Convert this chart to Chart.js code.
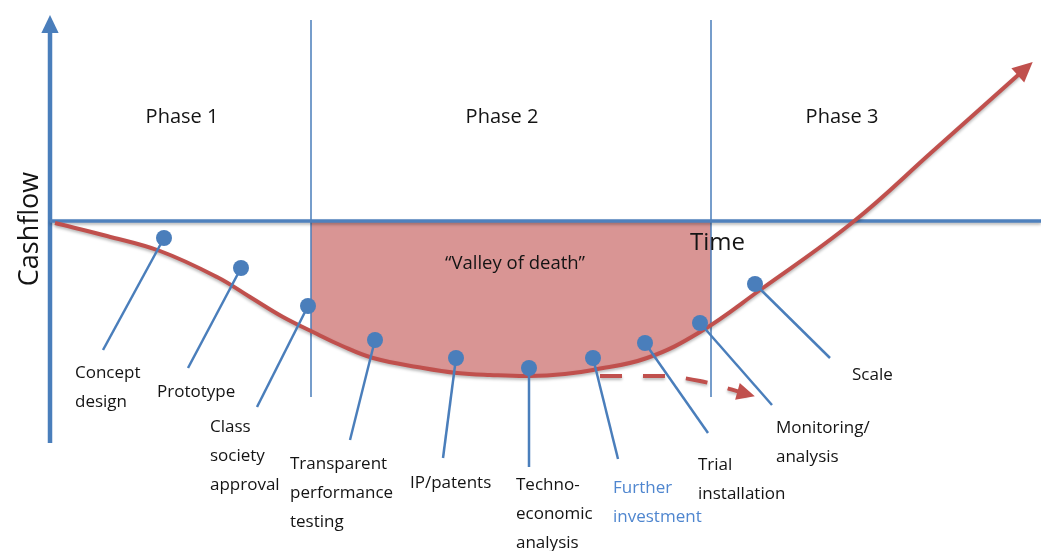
<!DOCTYPE html>
<html>
<head>
<meta charset="utf-8">
<title>Valley of death</title>
<script src="https://cdn.jsdelivr.net/npm/chart.js@4.4.1/dist/chart.umd.min.js"></script>
<style>
  html, body { margin: 0; padding: 0; background: #fff; }
  #wrap { width: 1041px; height: 551px; position: relative; }
</style>
</head>
<body>
<div id="wrap"><canvas id="chart"></canvas></div>
<script>
// Units: time along x, cashflow along y, axes cross at 0/0

// Cashflow curve
const curveTime = [0.5, 5.7, 11, 16.7, 20, 23.3, 26.7, 29, 32.3, 37.3, 40.7, 44, 48, 51.5, 54.3, 59.7, 65, 71, 80.3, 88.3, 97.6];
const curveCash = [-0.2, -1.5, -3.0, -5.6, -7.6, -9.6, -11.3, -12.4, -13.7, -14.7, -15.2, -15.4, -15.5, -15.3, -14.9, -13.7, -11.1, -6.9, -0.1, 7.0, 15.3];

// Phase borders and names
const phaseBorders = [26.1, 66.1];
const phaseNames = ['Phase 1', 'Phase 2', 'Phase 3'];
const phaseLabelTime = [13.2, 45.2, 79.2];

// Valley edge values where it meets the phase borders
const valleyEdgeCash = [-11.0, -10.5];

// Delayed path (dashed arrow)
const delayTime = [55, 61, 65, 69.7];
const delayCash = [-15.5, -15.5, -16, -17.3];

// Steps along the curve
const stepNames = [
  ['Concept', 'design'],
  ['Prototype'],
  ['Class', 'society', 'approval'],
  ['Transparent', 'performance', 'testing'],
  ['IP/patents'],
  ['Techno-', 'economic', 'analysis'],
  ['Further', 'investment'],
  ['Trial', 'installation'],
  ['Monitoring/', 'analysis'],
  ['Scale']
];
const stepDotTime = [11.4, 19.1, 25.8, 32.5, 40.6, 47.9, 54.3, 59.5, 65, 70.5];
const stepDotCash = [-1.7, -4.7, -8.5, -11.9, -13.7, -14.7, -13.7, -12.2, -10.2, -6.3];
const stepTipTime = [5.3, 13.8, 20.7, 30, 39.3, 47.9, 56.8, 65.8, 72.2, 78];
const stepTipCash = [-12.9, -14.7, -18.6, -21.9, -23.7, -24.6, -23.8, -21.2, -18.4, -13.7];
const stepLabelTime = [2.5, 10.7, 16, 24, 36, 46.6, 56.3, 64.8, 72.6, 80.2];
const stepLabelCash = [-15.2, -17.1, -20.6, -24.3, -26.2, -26.4, -26.7, -24.4, -20.7, -15.4];

const BLUE = '#4a7ebb';
const RED = '#c0504d';
const INK = '#141414';
const FONT = '"Open Sans", sans-serif';

const curvePoints = curveTime.map((t, i) => ({ x: t, y: curveCash[i] }));

// valley fill: curve values inside phase 2 plus the two edge values
const valleyPoints = [{ x: phaseBorders[0], y: valleyEdgeCash[0] }]
  .concat(curvePoints.filter(p => p.x > phaseBorders[0] + 0.8 && p.x < phaseBorders[1]))
  .concat([{ x: phaseBorders[1], y: valleyEdgeCash[1] }]);

const datasets = [];

datasets.push({
  data: valleyPoints,
  borderWidth: 0,
  backgroundColor: 'rgb(217,149,148)',
  fill: 'origin',
  pointRadius: 0,
  tension: 0.4,
  order: 10
});

phaseBorders.forEach(t => {
  datasets.push({
    data: [{ x: t, y: 20.1 }, { x: t, y: -17.6 }],
    borderColor: BLUE,
    borderWidth: 1.5,
    pointRadius: 0,
    order: 9
  });
});

// time axis
datasets.push({
  data: [{ x: 0, y: 0 }, { x: 99.1, y: 0 }],
  borderColor: '#4f81bd',
  borderWidth: 3.5,
  pointRadius: 0,
  shadow: true,
  order: 8
});

// cashflow axis
datasets.push({
  data: [{ x: 0, y: -22.2 }, { x: 0, y: 19.8 }],
  borderColor: BLUE,
  borderWidth: 4.5,
  pointRadius: 0,
  arrowSize: 18,
  order: 8
});

datasets.push({
  data: curvePoints,
  borderColor: RED,
  borderWidth: 4,
  pointRadius: 0,
  tension: 0.4,
  arrowSize: 20,
  shadow: true,
  order: 5
});

datasets.push({
  data: delayTime.map((t, i) => ({ x: t, y: delayCash[i] })),
  borderColor: RED,
  borderWidth: 4,
  borderDash: [22, 21],
  pointRadius: 0,
  cubicInterpolationMode: 'monotone',
  arrowSize: 18,
  shadow: true,
  order: 5
});

stepDotTime.forEach((t, i) => {
  datasets.push({
    data: [{ x: t, y: stepDotCash[i] }, { x: stepTipTime[i], y: stepTipCash[i] }],
    borderColor: BLUE,
    borderWidth: 2.5,
    pointRadius: 0,
    order: 2
  });
});

datasets.push({
  data: stepDotTime.map((t, i) => ({ x: t, y: stepDotCash[i] })),
  showLine: false,
  pointRadius: 8,
  pointBackgroundColor: BLUE,
  pointBorderWidth: 0,
  order: 1
});

// soft drop shadow under the curve and time axis
const dropShadow = {
  id: 'dropShadow',
  beforeDatasetDraw(chart, args) {
    if (!chart.data.datasets[args.index].shadow) return;
    const ctx = chart.ctx;
    ctx.save();
    ctx.shadowColor = 'rgba(0,0,0,0.28)';
    ctx.shadowBlur = 3;
    ctx.shadowOffsetY = 2;
  },
  afterDatasetDraw(chart, args) {
    if (!chart.data.datasets[args.index].shadow) return;
    chart.ctx.restore();
  }
};

// Arrowheads at the end of datasets that ask for one
const arrowHeads = {
  id: 'arrowHeads',
  afterDatasetsDraw(chart) {
    const ctx = chart.ctx;
    chart.data.datasets.forEach((ds, i) => {
      if (!ds.arrowSize) return;
      const pts = chart.getDatasetMeta(i).data;
      const a = pts[pts.length - 2], b = pts[pts.length - 1];
      const ang = Math.atan2(b.y - a.y, b.x - a.x);
      const len = ds.arrowSize, half = ds.arrowSize * 0.48;
      ctx.save();
      ctx.translate(b.x, b.y);
      ctx.rotate(ang);
      ctx.beginPath();
      ctx.moveTo(len * 0.45, 0);
      ctx.lineTo(-len * 0.55, -half);
      ctx.lineTo(-len * 0.55, half);
      ctx.closePath();
      ctx.fillStyle = ds.borderColor;
      ctx.fill();
      ctx.restore();
    });
  }
};

// All the text
const textLayer = {
  id: 'textLayer',
  afterDatasetsDraw(chart) {
    const { ctx, scales: { x, y } } = chart;
    ctx.save();
    ctx.textBaseline = 'middle';
    ctx.fillStyle = INK;

    ctx.textAlign = 'center';
    ctx.font = '20px ' + FONT;
    phaseNames.forEach((name, i) => {
      ctx.fillText(name, x.getPixelForValue(phaseLabelTime[i]), y.getPixelForValue(10.4));
    });

    ctx.font = '18.5px ' + FONT;
    ctx.fillText('\u201CValley of death\u201D', x.getPixelForValue(46.5), y.getPixelForValue(-4.3));

    ctx.textAlign = 'left';
    ctx.font = '24px ' + FONT;
    ctx.fillText('Time', x.getPixelForValue(64), y.getPixelForValue(-2.2));

    ctx.font = '17px ' + FONT;
    stepNames.forEach((lines, i) => {
      ctx.fillStyle = lines[0] === 'Further' ? '#4f86cf' : INK;
      const px = x.getPixelForValue(stepLabelTime[i]);
      const py = y.getPixelForValue(stepLabelCash[i]);
      lines.forEach((ln, j) => ctx.fillText(ln, px, py + j * 29));
    });

    ctx.fillStyle = INK;
    ctx.font = '27px ' + FONT;
    ctx.translate(x.getPixelForValue(-2), y.getPixelForValue(-0.8));
    ctx.rotate(-Math.PI / 2);
    ctx.textAlign = 'center';
    ctx.fillText('Cashflow', 0, 0);
    ctx.restore();
  }
};

new Chart(document.getElementById('chart'), {
  type: 'line',
  data: { datasets },
  options: {
    responsive: true,
    maintainAspectRatio: false,
    animation: false,
    events: [],
    layout: { padding: 0, autoPadding: false },
    plugins: { legend: { display: false }, tooltip: { enabled: false } },
    scales: {
      x: { type: 'linear', min: -5, max: 99.1, display: false },
      y: { type: 'linear', min: -33, max: 22.1, display: false }
    }
  },
  plugins: [dropShadow, arrowHeads, textLayer]
});
</script>
</body>
</html>
